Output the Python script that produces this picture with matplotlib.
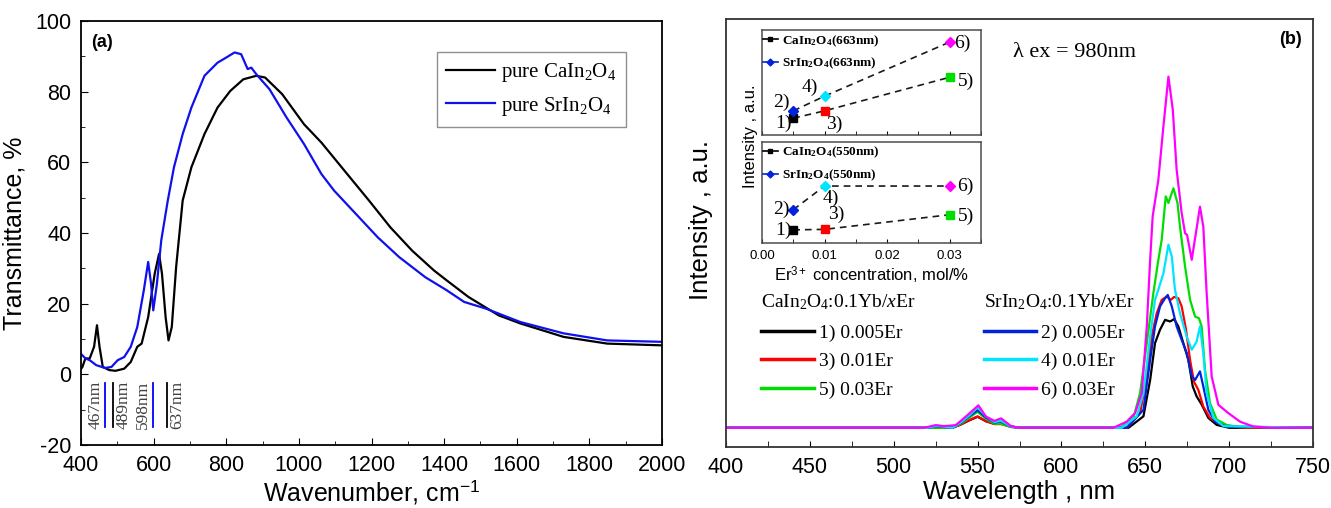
import matplotlib
matplotlib.use("Agg")
import matplotlib.pyplot as plt
from matplotlib.ticker import MultipleLocator, FormatStrFormatter

plt.rcParams['font.family'] = ['Liberation Sans', 'DejaVu Sans']
plt.rcParams['axes.unicode_minus'] = False
plt.rcParams['mathtext.fontset'] = 'custom'
plt.rcParams['mathtext.rm'] = 'Liberation Serif'
plt.rcParams['mathtext.it'] = 'Liberation Serif:italic'
plt.rcParams['mathtext.bf'] = 'Liberation Serif:bold'
plt.rcParams['mathtext.sf'] = 'Liberation Sans'
SERIF = ['Liberation Serif', 'DejaVu Serif']

# ---- panel (a): transmittance ----
ca_wn = [400, 404, 412, 424, 436, 444, 451, 460, 478, 495, 519, 537, 555, 567, 585, 603,
         615, 623, 633, 641, 650, 662, 680, 704, 740, 776, 811, 847, 883, 907, 954, 1014,
         1062, 1133, 1193, 1252, 1312, 1372, 1407, 1467, 1550, 1610, 1729, 1849, 2000]
ca_t = [1.5, 2.1, 4.5, 4.5, 7.8, 13.9, 7.8, 2.1, 1.2, 1.0, 1.6, 3.5, 7.8, 8.7, 16.2, 28.5,
        34.1, 28.5, 16.2, 9.6, 13.4, 30.4, 49.2, 58.6, 68.0, 75.5, 80.2, 83.5, 84.5, 84.0,
        79.3, 70.8, 65.6, 56.7, 49.2, 41.6, 35.0, 29.4, 26.6, 21.9, 16.7, 14.4, 10.6, 8.7, 8.2]
sr_wn = [400, 412, 424, 442, 466, 484, 501, 519, 537, 555, 573, 585, 593, 599, 609, 621,
         639, 656, 680, 704, 740, 776, 799, 823, 841, 859, 869, 883, 919, 966, 1014, 1062,
         1097, 1157, 1217, 1276, 1348, 1407, 1455, 1515, 1610, 1729, 1849, 2000]
sr_t = [5.8, 4.5, 4.0, 2.6, 1.8, 2.1, 4.0, 4.9, 7.8, 13.4, 23.8, 31.8, 25.6, 18.1, 25.6, 37.9,
        49.2, 58.6, 68.0, 75.5, 84.5, 88.2, 89.6, 91.1, 90.6, 86.4, 86.8, 84.9, 80.7, 72.7,
        65.2, 56.7, 52.0, 45.4, 38.8, 33.2, 27.5, 23.8, 20.5, 18.6, 14.8, 11.6, 9.6, 9.2]
mark_wn = [467, 489, 598, 637]
mark_lbl = ['467nm', '489nm', '598nm', '637nm']
mark_col = ['blue', 'black', 'blue', 'black']

# ---- panel (b): emission spectra ----
wl_ca1 = [400, 520, 535, 540, 545, 550, 555, 560, 564, 570, 575, 640, 648.9, 652.9, 655.8,
          658.8, 661.8, 664.8, 667.2, 669.7, 672.7, 675.7, 678.3, 680.6, 683.6, 687.6, 692.6, 700, 750]
int_ca1 = [0, 0, 0, 0.8, 1.8, 2.7, 1.6, 1.0, 1.2, 0.3, 0, 0, 2.8, 11.7, 20.7,
           24.0, 26.4, 26.0, 26.6, 24.8, 20.7, 16.6, 10.1, 7.7, 5.7, 2.4, 0.7, 0, 0]
wl_ca3 = [400, 520, 535, 540, 545, 550, 555, 560, 564, 570, 575, 639, 646.9, 650.9, 653.8,
          656.8, 659.8, 662.8, 665.2, 667.2, 669.7, 671.7, 674.3, 676.7, 679.0, 681.6, 684.6,
          688.6, 694.5, 700, 710, 750]
int_ca3 = [0, 0, 0, 0.8, 1.9, 2.8, 1.6, 0.9, 0.9, 0.2, 0, 0, 3.6, 12.6, 22.3,
           28.0, 31.3, 32.1, 31.3, 32.0, 31.7, 29.7, 24.0, 16.6, 11.3, 9.3, 5.2,
           2.4, 0.9, 0.4, 0, 0]
wl_ca5 = [400, 520, 535, 540, 545, 550, 555, 560, 564, 570, 575, 635, 642.9, 646.9, 650.9,
          654.8, 657.8, 659.8, 662.2, 663.8, 666.8, 669.2, 670.7, 673.7, 676.7, 679.7, 682.0,
          683.6, 685.6, 688.6, 692.6, 698.5, 706, 750]
int_ca5 = [0, 0, 0, 1.0, 2.5, 3.9, 2.2, 1.0, 1.0, 0.2, 0, 0, 2.4, 8.5, 20.7,
           32.9, 41.1, 46.0, 56.6, 55.0, 58.6, 55.0, 49.2, 39.5, 31.3, 27.2, 26.8,
           24.8, 14.2, 6.0, 2.0, 0.7, 0.2, 0]
wl_sr2 = [400, 520, 526, 535, 540, 545, 550, 555, 560, 564, 570, 575, 639, 648.9, 652.9, 655.8,
          658.8, 661.8, 663.4, 665.8, 668.7, 671.7, 674.7, 677.7, 679.7, 682.6, 684.6,
          687.6, 691.6, 698, 750]
int_sr2 = [0, 0, 0.4, 0, 1.2, 2.8, 4.3, 2.5, 1.3, 1.5, 0.3, 0, 0, 4.4, 16.6, 24.8,
           29.7, 31.7, 32.5, 29.7, 24.8, 21.5, 18.3, 12.6, 11.7, 13.8, 10.1,
           4.4, 1.5, 0.3, 0]
wl_sr4 = [400, 520, 526, 535, 540, 545, 550, 555, 560, 564, 570, 575, 636, 644.9, 648.9,
          652.9, 655.8, 657.8, 660.8, 663.8, 665.8, 667.7, 670.7, 674.7, 677.7, 680.6,
          682.6, 684.6, 686.6, 690.6, 696.6, 750]
int_sr4 = [0, 0, 0.5, 0, 1.3, 3.0, 5.0, 2.8, 1.4, 1.7, 0.3, 0, 0, 2.8, 8.5,
           22.3, 31.3, 33.8, 37.8, 44.8, 41.9, 33.8, 28.0, 22.3, 19.1, 21.1,
           24.8, 18.3, 8.5, 2.4, 0.4, 0]
wl_sr6 = [400, 518, 525, 530, 537, 544, 550.5, 555, 560, 564, 570, 575, 631, 638.9, 643.9,
          647.9, 650.9, 652.9, 654.4, 657.8, 660.8, 663.8, 666.4, 668.7, 671.7, 673.7,
          674.9, 677.7, 680.2, 682.6, 684.6, 686.6, 689.6, 693.6, 699.5, 706.5, 714.5, 725, 750]
int_sr6 = [0, 0, 0.65, 0.4, 0.65, 3.1, 5.5, 2.7, 1.7, 2.3, 0.4, 0, 0, 1.5, 3.6,
           8.5, 24.8, 41.1, 51.7, 60.7, 73.7, 85.9, 77.8, 63.1, 52.5, 47.6,
           47.2, 41.1, 47.7, 54.1, 49.2, 32.9, 12.5, 5.6, 3.6, 1.5, 0.3, 0, 0]
spec_lbl = ['1) 0.005Er', '3) 0.01Er', '5) 0.03Er', '2) 0.005Er', '4) 0.01Er', '6) 0.03Er']
spec_col = ['black', 'red', '#00dd00', '#0022dd', '#00e5ff', '#ff00ff']

# ---- insets: peak intensity vs Er concentration ----
er_conc = [0.005, 0.01, 0.03]
ca_663 = [0.16, 0.23, 0.55]
sr_663 = [0.23, 0.37, 0.885]
ca_550 = [0.13, 0.135, 0.28]
sr_550 = [0.33, 0.564, 0.564]
pt_lbl = [['1)', '3)', '5)'], ['2)', '4)', '6)']]
pt_col = [['black', 'red', '#00dd00'], ['#0022dd', '#00e5ff', '#ff00ff']]
off_663 = [[(-10, -5), (10, -13), (16, -4)], [(-12, 9), (-15, 9), (13, -1)]]
off_550 = [[(-10, 0), (12, 15), (16, -2)], [(-12, 0), (6, -12), (16, 0)]]

fig = plt.figure(figsize=(13.31, 5.08), dpi=100)

# ================= (a) =================
axa = fig.add_axes([81 / 1331, 1 - 445 / 508, 581 / 1331, 424 / 508])
axa.plot(ca_wn, ca_t, color='black', lw=1.6, label='pure CaIn$_2$O$_4$')
axa.plot(sr_wn, sr_t, color='#1010ee', lw=1.6, label='pure SrIn$_2$O$_4$')
for w, t, c in zip(mark_wn, mark_lbl, mark_col):
    axa.plot([w, w], [-2.5, -15], color=c, lw=1.3)
    dx = -10 if c == 'blue' else 10
    axa.annotate(t, (w, -8.7), xytext=(dx, 0), textcoords='offset pixels', rotation=90,
                 ha='center', va='center', family=SERIF, fontsize=12.5, color='0.25')
axa.set_xlim(400, 2000)
axa.set_ylim(-20, 100)
axa.xaxis.set_major_locator(MultipleLocator(200))
axa.xaxis.set_minor_locator(MultipleLocator(100))
axa.yaxis.set_major_locator(MultipleLocator(20))
axa.yaxis.set_minor_locator(MultipleLocator(10))
axa.tick_params(which='both', direction='in', labelsize=15.5)
axa.tick_params(which='major', length=5, pad=7)
axa.tick_params(which='minor', length=3)
axa.set_xlabel('Wavenumber, cm$^{\\mathsf{-1}}$', fontsize=18, labelpad=2)
axa.set_ylabel('Transmittance, %', fontsize=18, labelpad=6)
axa.text(0.036, 0.95, '(a)', transform=axa.transAxes, fontsize=13, fontweight='bold',
         ha='center', va='center')
lega = axa.legend(loc='upper right', bbox_to_anchor=(0.938, 0.927), borderaxespad=0,
                  fancybox=False, edgecolor='0.45', prop=dict(family=SERIF, size=15),
                  handlelength=2.35, handletextpad=0.3, borderpad=0.45, labelspacing=0.5)
lega.get_frame().set_linewidth(1.0)
for s in axa.spines.values():
    s.set_linewidth(1.3)

# ================= (b) =================
axb = fig.add_axes([726 / 1331, 1 - 447 / 508, 587 / 1331, 428 / 508])
spectra = [(wl_ca1, int_ca1), (wl_ca3, int_ca3), (wl_ca5, int_ca5),
           (wl_sr2, int_sr2), (wl_sr4, int_sr4), (wl_sr6, int_sr6)]
lines = []
for (wl, it), lb, c in zip(spectra, spec_lbl, spec_col):
    ln, = axb.plot(wl, it, color=c, lw=1.6, label=lb)
    lines.append(ln)
axb.set_xlim(400, 750)
axb.set_ylim(-4.7, 100)
axb.set_yticks([])
axb.xaxis.set_major_locator(MultipleLocator(50))
axb.xaxis.set_minor_locator(MultipleLocator(25))
axb.tick_params(which='both', direction='in', labelsize=15.5)
axb.tick_params(which='major', length=4, pad=7)
axb.tick_params(which='minor', length=4)
axb.set_xlabel('Wavelength , nm', fontsize=18.5, labelpad=2)
axb.set_ylabel('Intensity , a.u.', fontsize=18.5)
axb.yaxis.set_label_coords(-0.022, 0.53)
for s in axb.spines.values():
    s.set_linewidth(1.3)
    s.set_color('0.2')
axb.text(0.961, 0.951, '(b)', transform=axb.transAxes, fontsize=13, fontweight='bold',
         ha='center', va='center')
axb.text(0.489, 0.922, 'λ ex = 980nm', transform=axb.transAxes, fontsize=16,
         family=SERIF, ha='left', va='center')

leg_kw = dict(loc='upper left', frameon=False, borderaxespad=0, borderpad=0,
              prop=dict(family=SERIF, size=14), title_fontproperties=dict(family=SERIF, size=14),
              alignment='left', handlelength=2.7, handletextpad=0.25, labelspacing=0.55)
leg1 = axb.legend(handles=lines[:3], title='CaIn$_2$O$_4$:0.1Yb/$x$Er',
                  bbox_to_anchor=(0.060, 0.362), **leg_kw)
axb.add_artist(leg1)
leg2 = axb.legend(handles=lines[3:], title='SrIn$_2$O$_4$:0.1Yb/$x$Er',
                  bbox_to_anchor=(0.4387, 0.362), **leg_kw)
for lg in (leg1, leg2):
    lg._legend_box.sep = 9
    for h in lg.legend_handles:
        h.set_linewidth(2.5)

# ================= insets =================
ax_up = fig.add_axes([762 / 1331, 1 - 135 / 508, 219 / 1331, 105 / 508])
ax_lo = fig.add_axes([762 / 1331, 1 - 243 / 508, 219 / 1331, 101 / 508])
inset_sets = [(ax_up, ca_663, sr_663, off_663, '663nm'), (ax_lo, ca_550, sr_550, off_550, '550nm')]
for ax, ca, sr, offs, nm in inset_sets:
    ax.plot(er_conc, ca, '--', color='0.1', lw=1.2, dashes=(4, 3))
    ax.plot(er_conc, sr, '--', color='0.1', lw=1.2, dashes=(4, 3))
    for row, (vals, mk) in enumerate([(ca, 's'), (sr, 'D')]):
        for i, (x, y) in enumerate(zip(er_conc, vals)):
            ax.plot(x, y, marker=mk, color=pt_col[row][i], ms=6 if mk == 's' else 5.5, ls='none')
            ax.annotate(pt_lbl[row][i], (x, y), xytext=offs[row][i], textcoords='offset pixels',
                        ha='center', va='center', family=SERIF, fontsize=14)
    h1, = ax.plot([], [], '-s', color='black', ms=3.5, lw=1.2)
    h2, = ax.plot([], [], '-D', color='#0022dd', ms=3.5, lw=1.2)
    ax.legend([h1, h2], ['CaIn$_\\mathbf{2}$O$_\\mathbf{4}$(%s)' % nm,
                         'SrIn$_\\mathbf{2}$O$_\\mathbf{4}$(%s)' % nm],
              loc='upper left', bbox_to_anchor=(0.005, 0.97), frameon=False, borderaxespad=0,
              borderpad=0, prop=dict(family=SERIF, size=9.5, weight='bold'),
              handlelength=1.1, handletextpad=0.3, labelspacing=0.55)
    ax.set_xlim(0, 0.035)
    ax.set_ylim(0, 1)
    ax.set_yticks([])
    ax.xaxis.set_major_locator(MultipleLocator(0.01))
    ax.xaxis.set_minor_locator(MultipleLocator(0.005))
    ax.xaxis.set_major_formatter(FormatStrFormatter('%.2f'))
    ax.tick_params(which='both', direction='in', length=3, labelsize=9.5)
    for s in ax.spines.values():
        s.set_linewidth(1.1)
        s.set_color('0.3')
ax_up.tick_params(labelbottom=False)
ax_lo.tick_params(pad=5)
ax_lo.set_xlabel('Er$^{\\mathsf{3+}}$ concentration, mol/%', fontsize=12, labelpad=2)
fig.text(750 / 1331, 1 - 136 / 508, 'Intensity , a.u.', rotation=90, fontsize=12,
         ha='center', va='center')

fig.savefig('out.png', dpi=100)
